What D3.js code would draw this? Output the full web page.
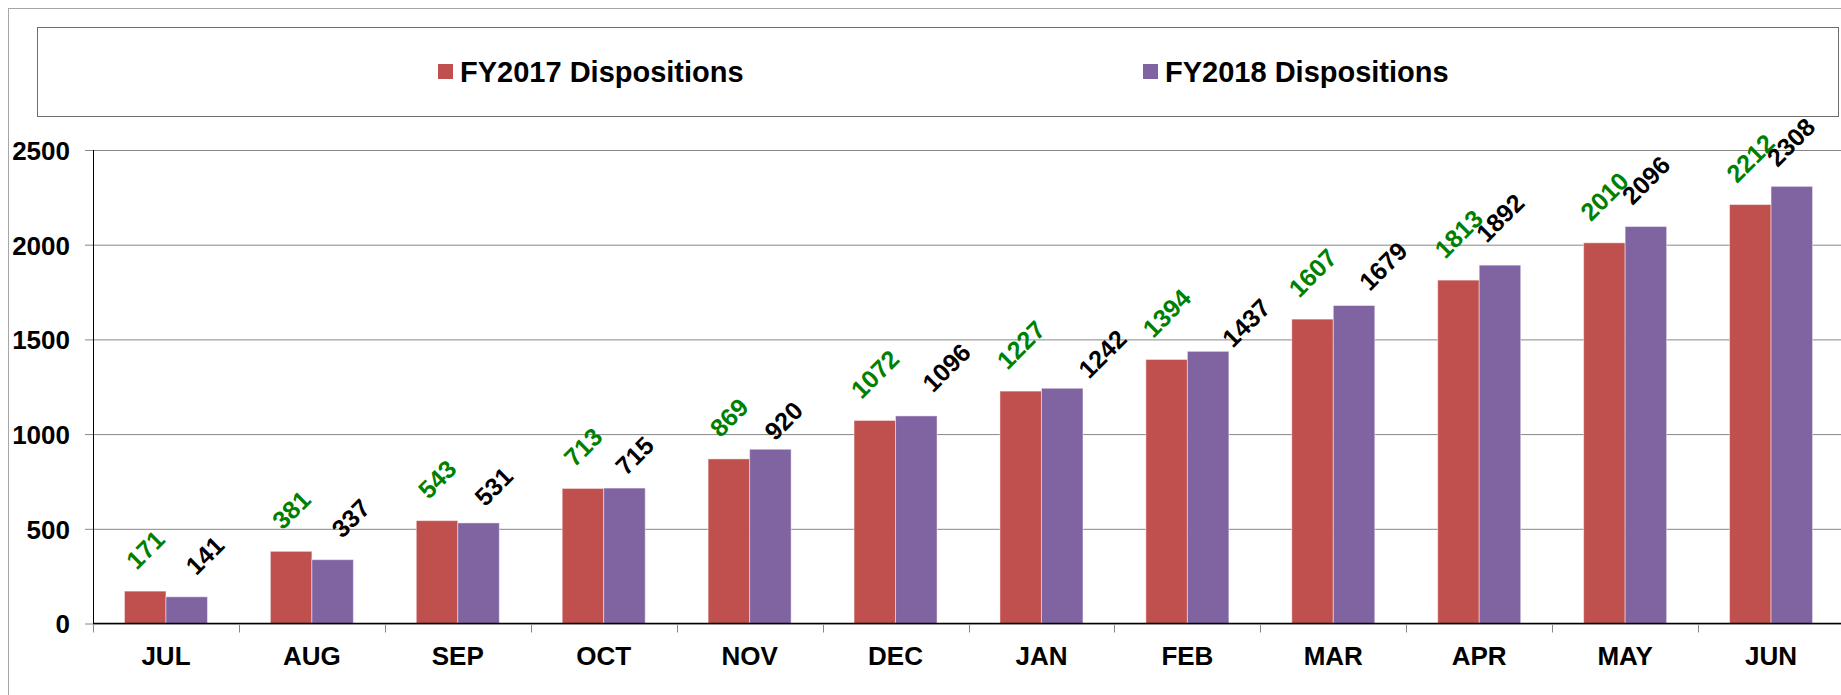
<!DOCTYPE html>
<html>
<head>
<meta charset="utf-8">
<script src="https://cdn.jsdelivr.net/npm/d3@7/dist/d3.min.js"></script>
<style>
    html, body { margin: 0; padding: 0; background: #fff; overflow: hidden; }
    svg { display: block; font-family: "Liberation Sans", Arial, sans-serif; }
</style>
</head>
<body>
<svg id="chart" width="1841" height="695"></svg>
<script>
/**
 * Data.
 */
const months = ['JUL', 'AUG', 'SEP', 'OCT', 'NOV', 'DEC', 'JAN', 'FEB', 'MAR', 'APR', 'MAY', 'JUN'];
const seriesNames = ['FY2017 Dispositions', 'FY2018 Dispositions'];
const fy2017 = [171, 381, 543, 713, 869, 1072, 1227, 1394, 1607, 1813, 2010, 2212];
const fy2018 = [141, 337, 531, 715, 920, 1096, 1242, 1437, 1679, 1892, 2096, 2308];
const yTicks = [0, 500, 1000, 1500, 2000, 2500];

/**
 * Visual configs.
 */
const visWidth = 1841, visHeight = 695;
const plot = { left: 93, right: 1844, top: 150, bottom: 623.5 };
const colors = ['#c0504d', '#8064a2'],
    labelColors = ['#008000', '#000000'];
const labelSize = 25, labelGap = 20.5;

// Hand placed data labels of the second series (dx, dy from the default spot)
const fy2018LabelNudge = [[18, 0], [18, 0], [15, 5], [10, 9], [13, 13], [30, -2],
    [40, 12], [38, 18], [29, 7], [0, -1], [0, 0], [-1, 2]];

const svg = d3.select('#chart');

// Outer chart frame and legend box
svg.append('rect')
    .attr('x', 8.5).attr('y', 8.5)
    .attr('width', 1900).attr('height', 800)
    .attr('fill', 'none').attr('stroke', '#a6a6a6');

svg.append('rect')
    .attr('x', 37.5).attr('y', 27.5)
    .attr('width', 1801).attr('height', 89)
    .attr('fill', '#fff').attr('stroke', '#6e6e6e');

/**
 * Scales.
 */
const x0 = d3.scaleBand().domain(months).range([plot.left, plot.right]).paddingInner(0).paddingOuter(0);
const x1 = d3.scaleBand().domain([0, 1]).range([0, x0.bandwidth()]).paddingInner(0).paddingOuter(0.758);
const y = d3.scaleLinear().domain([0, 2500]).range([plot.bottom, plot.top]);

/**
 * Grid lines and axes.
 */
const yAxis = svg.append('g')
    .attr('transform', 'translate(' + plot.left + ',0)')
    .call(d3.axisLeft(y).tickValues(yTicks).tickFormat(d3.format('d'))
        .tickSizeInner(-(visWidth - plot.left)).tickSizeOuter(0).tickPadding(0));
yAxis.select('.domain').remove();
yAxis.selectAll('.tick line')
    .attr('x1', -8)
    .attr('stroke', '#878787');
yAxis.selectAll('.tick text')
    .attr('x', -23)
    .attr('dy', '0.36em')
    .attr('fill', '#000')
    .style('font-size', '26px')
    .style('font-weight', 'bold');

/**
 * Bars.
 */
const rows = (m, i) => [fy2017[i], fy2018[i]].map((v, s) => ({ month: i, series: s, value: v }));

const groups = svg.append('g').attr('class', 'bars')
    .selectAll('g')
    .data(months)
    .join('g')
    .attr('transform', d => 'translate(' + x0(d) + ',0)');

groups.selectAll('rect')
    .data(rows)
    .join('rect')
    .attr('x', d => x1(d.series))
    .attr('y', d => y(d.value))
    .attr('width', x1.bandwidth())
    .attr('height', d => y(0) - y(d.value))
    .attr('fill', d => colors[d.series])
    .attr('stroke', 'rgba(255,255,255,0.45)')
    .attr('stroke-width', 1);

// Axis lines on top of bars
svg.append('line')
    .attr('x1', plot.left + 0.5).attr('x2', plot.left + 0.5)
    .attr('y1', plot.top).attr('y2', plot.bottom)
    .attr('stroke', '#000');

const xAxis = svg.append('g')
    .attr('transform', 'translate(0,' + plot.bottom + ')');
xAxis.append('line')
    .attr('x1', plot.left).attr('x2', visWidth)
    .attr('stroke', '#000').attr('stroke-width', 1.5);
xAxis.selectAll('.sep')
    .data(months)
    .join('line')
    .attr('class', 'sep')
    .attr('x1', d => Math.round(x0(d)) + 0.5).attr('x2', d => Math.round(x0(d)) + 0.5)
    .attr('y1', 1).attr('y2', 9)
    .attr('stroke', '#878787');
xAxis.selectAll('text')
    .data(months)
    .join('text')
    .attr('x', d => x0(d) + x0.bandwidth() / 2)
    .attr('y', 41.5)
    .attr('text-anchor', 'middle')
    .style('font-size', '26px')
    .style('font-weight', 'bold')
    .text(d => d);

/**
 * Data labels, rotated 45 degrees.
 */
groups.selectAll('text')
    .data(rows)
    .join('text')
    .attr('text-anchor', 'middle')
    .attr('dy', '0.36em')
    .attr('fill', d => labelColors[d.series])
    .style('font-size', labelSize + 'px')
    .style('font-weight', 'bold')
    .text(d => d.value)
    .attr('transform', function(d) {
        const len = this.getComputedTextLength();
        const half = (len + 0.716 * labelSize) / (2 * Math.SQRT2);
        const nudge = d.series === 1 ? fy2018LabelNudge[d.month] : [0, 0];
        const cx = x1(d.series) + x1.bandwidth() / 2 + nudge[0];
        const cy = y(d.value) - half - labelGap + nudge[1];
        return 'translate(' + cx + ',' + cy + ') rotate(-45)';
    });

/**
 * Legend.
 */
const legendItems = [{ x: 438, name: seriesNames[0], color: colors[0] },
    { x: 1143, name: seriesNames[1], color: colors[1] }];

const legend = svg.append('g').attr('class', 'legend')
    .selectAll('g')
    .data(legendItems)
    .join('g')
    .attr('transform', d => 'translate(' + d.x + ',64)');

legend.append('rect')
    .attr('width', 15).attr('height', 15)
    .attr('fill', d => d.color);

legend.append('text')
    .attr('x', 22).attr('y', 18)
    .style('font-size', '29px')
    .style('font-weight', 'bold')
    .text(d => d.name);
</script>
</body>
</html>
